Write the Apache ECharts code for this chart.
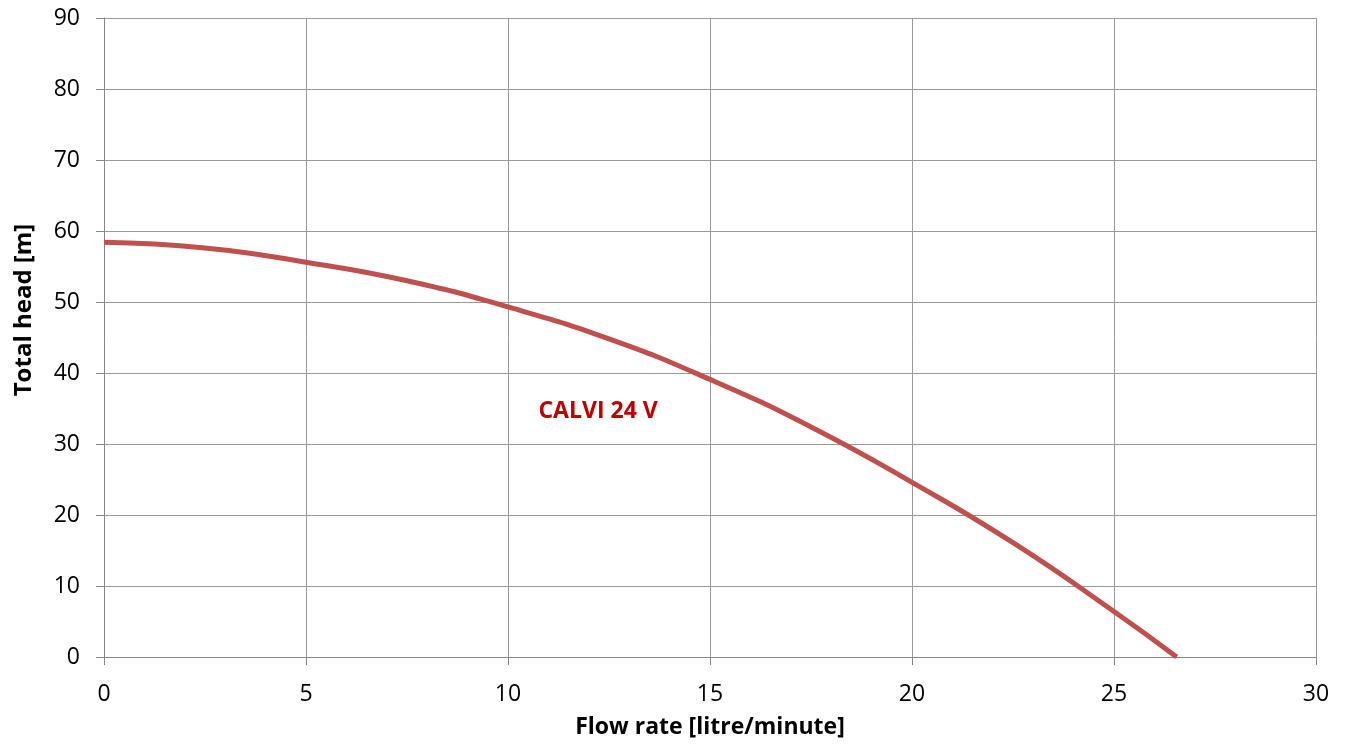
<!DOCTYPE html>
<html>
<head>
<meta charset="utf-8">
<script src="https://cdn.jsdelivr.net/npm/echarts@6/dist/echarts.min.js"></script>
<style>
html,body{margin:0;padding:0;background:#fff;}
#chart{width:1348px;height:749px;}
</style>
</head>
<body>
<div id="chart"></div>
<script>
const flowRate = [0, 2.5, 5, 7.5, 10, 12.5, 15, 17.5, 20, 22.5, 25, 26.55];
const totalHead = [58.4, 57.6, 55.6, 53.0, 49.3, 44.8, 39.1, 32.4, 24.6, 16.1, 6.4, 0];
const seriesName = 'CALVI 24 V';
const labelPos = [12.23, 34.6];
const xTitle = 'Flow rate [litre/minute]';
const yTitle = 'Total head [m]';

const font = '"Open Sans", "Noto Sans", sans-serif';
const chart = echarts.init(document.getElementById('chart'));
chart.setOption({
  animation: false,
  backgroundColor: '#ffffff',
  grid: {left: 104, right: 32, top: 18, bottom: 92},
  xAxis: {
    type: 'value', min: 0, max: 30, interval: 5,
    name: xTitle, nameLocation: 'middle', nameGap: 59,
    nameTextStyle: {fontFamily: font, fontSize: 23, fontWeight: 'bold', color: '#000'},
    axisLine: {show: true, lineStyle: {color: '#868686', width: 1}},
    axisTick: {show: true, length: 8, lineStyle: {color: '#868686'}},
    axisLabel: {margin: 26, fontFamily: font, fontSize: 23, color: '#000'},
    splitLine: {show: true, lineStyle: {color: '#9a9a9a', width: 1}}
  },
  yAxis: {
    type: 'value', min: 0, max: 90, interval: 10,
    axisLine: {show: true, lineStyle: {color: '#868686', width: 1}},
    axisTick: {show: true, length: 8, lineStyle: {color: '#868686'}},
    axisLabel: {margin: 24, fontFamily: font, fontSize: 23, color: '#000'},
    splitLine: {show: true, lineStyle: {color: '#9a9a9a', width: 1}}
  },
  graphic: [{
    type: 'text', x: 24, y: 310, rotation: Math.PI / 2,
    style: {text: yTitle, font: 'bold 24px ' + font, fill: '#000',
      textAlign: 'center', textVerticalAlign: 'middle'}
  }],
  series: [{
    name: seriesName,
    type: 'line',
    smooth: true,
    showSymbol: false,
    data: flowRate.map((x, i) => [x, totalHead[i]]),
    lineStyle: {color: '#c0504d', width: 5},
    markPoint: {
      symbol: 'circle', symbolSize: 0,
      data: [{coord: labelPos, value: seriesName}],
      label: {show: true, position: 'inside', formatter: seriesName,
        fontFamily: font, fontSize: 23, fontWeight: 'bold', color: '#c00000'}
    }
  }]
});
</script>
</body>
</html>
